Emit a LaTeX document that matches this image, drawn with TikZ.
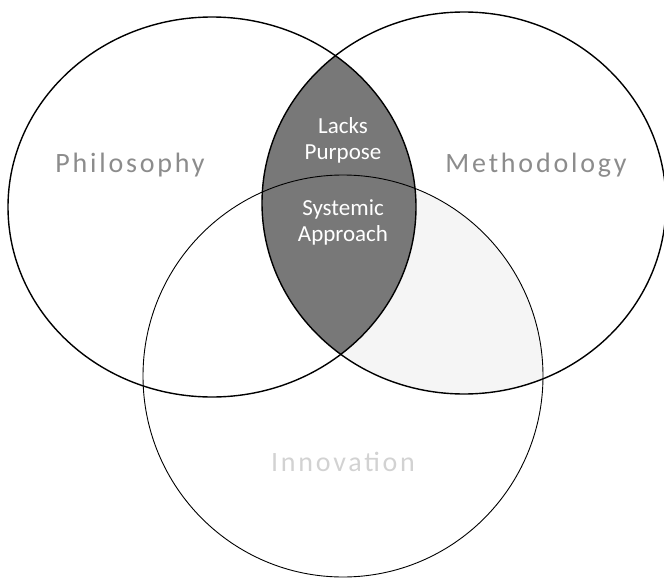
\documentclass[tikz,border=0pt]{standalone}
\usepackage{fontspec}
\setmainfont{Carlito}
\usepackage{tikz}
\definecolor{lensgray}{RGB}{120,120,120}
\definecolor{labelgray}{RGB}{140,140,140}
\usetikzlibrary{positioning}

\begin{document}
\begin{tikzpicture}[x=1pt, y=-1pt,
			ring/.style={draw=black, line width=1.4pt},
			thinring/.style={draw=black, line width=0.9pt},
			setlabel/.style={text=labelgray, font=\fontsize{28}{30}\selectfont\addfontfeature{LetterSpace=10}},
			lenslabel/.style={text=white, align=center, font=\fontsize{23}{26}\selectfont}]
			% Bildbereich
			\useasboundingbox (0,0) rectangle (664,578);
			% Schnittflaechen fuellen
			\begin{scope}
				\clip (464,203) ellipse [x radius=202, y radius=191];
				\fill[gray!8] (343,376) ellipse [x radius=200, y radius=201];
			\end{scope}
			\begin{scope}
				\clip (212,207) ellipse [x radius=204, y radius=190];
				\fill[lensgray] (464,203) ellipse [x radius=202, y radius=191];
			\end{scope}
			% Kreise zeichnen
			\draw[thinring] (343,376) ellipse [x radius=200, y radius=201];
			\draw[ring] (212,207) ellipse [x radius=204, y radius=190];
			\draw[ring] (464,203) ellipse [x radius=202, y radius=191];
			% Beschriftung
			\node[setlabel] (philo) at (130,165) {Philosophy};
			\node[setlabel] (method) at (536,165) {Methodology};
			\node[setlabel, text=gray!35] (innov) at (343,462) {Innovation};
			\node[lenslabel] (lacks) at (343,140) {Lacks\\Purpose};
			\node[lenslabel] (system) at (343,222) {Systemic\\Approach};
		\end{tikzpicture}
\end{document}
